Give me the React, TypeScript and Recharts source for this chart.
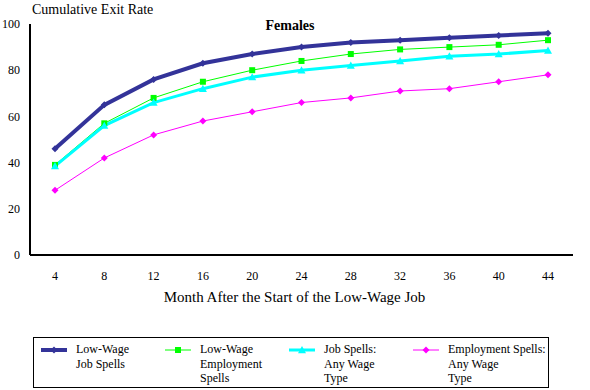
import { LineChart, Line, XAxis, YAxis } from "recharts";

const months = ["4", "8", "12", "16", "20", "24", "28", "32", "36", "40", "44"];
const lowWageJob = [46, 65, 76, 83, 87, 90, 92, 93, 94, 95, 96];
const lowWageEmployment = [39, 57, 68, 75, 80, 84, 87, 89, 90, 91, 93];
const anyWageJob = [38.5, 56, 66, 72, 77, 80, 82, 84, 86, 87, 88.5];
const anyWageEmployment = [28, 42, 52, 58, 62, 66, 68, 71, 72, 75, 78];
const yTicks = [0, 20, 40, 60, 80, 100];

const data = months.map((m, i) => ({
  month: m,
  lowWageJob: lowWageJob[i],
  lowWageEmployment: lowWageEmployment[i],
  anyWageJob: anyWageJob[i],
  anyWageEmployment: anyWageEmployment[i],
}));

const font = "Liberation Serif";

type Shape = "diamond" | "square" | "triangle";

function marker(shape: Shape, color: string, r: number) {
  return (props: any) => {
    const { cx, cy, index } = props;
    if (cx == null || cy == null) return <g key={index} />;
    if (shape === "square")
      return <rect key={index} x={cx - r} y={cy - r} width={r * 2} height={r * 2} fill={color} />;
    if (shape === "triangle")
      return (
        <polygon key={index} points={`${cx},${cy - r} ${cx + r},${cy + r * 0.8} ${cx - r},${cy + r * 0.8}`} fill={color} />
      );
    return (
      <polygon key={index} points={`${cx},${cy - r} ${cx + r},${cy} ${cx},${cy + r} ${cx - r},${cy}`} fill={color} />
    );
  };
}

const series = [
  { key: "lowWageJob", label: ["Low-Wage", "Job Spells"], color: "#333399", width: 4, shape: "diamond" as Shape, r: 3.5 },
  { key: "lowWageEmployment", label: ["Low-Wage", "Employment", "Spells"], color: "#00ff00", width: 1, shape: "square" as Shape, r: 3 },
  { key: "anyWageJob", label: ["Job Spells:", "Any Wage", "Type"], color: "#00ffff", width: 3, shape: "triangle" as Shape, r: 4 },
  { key: "anyWageEmployment", label: ["Employment Spells:", "Any Wage", "Type"], color: "#ff00ff", width: 1, shape: "diamond" as Shape, r: 3.5 },
];

function LegendSample({ s }: { s: (typeof series)[number] }) {
  const Dot = marker(s.shape, s.color, s.r);
  return (
    <svg width={26} height={10} style={{ display: "block" }}>
      <line x1={0} y1={5} x2={26} y2={5} stroke={s.color} strokeWidth={s.width} />
      <Dot cx={13} cy={5} index={0} />
    </svg>
  );
}

export default function App() {
  return (
    <div style={{ position: "absolute", left: 0, top: 0, width: 590, height: 390, background: "#fff", fontFamily: font }}>
      <div style={{ position: "absolute", left: 32, top: 2, fontSize: 14, color: "#000" }}>Cumulative Exit Rate</div>
      <div style={{ position: "absolute", left: 0, width: 580, top: 18, textAlign: "center", fontSize: 14, fontWeight: "bold" }}>
        Females
      </div>
      <LineChart width={590} height={390} data={data} margin={{ top: 24, right: 17, left: 0, bottom: 0 }}>
        <XAxis
          dataKey="month"
          height={135}
          padding={{ left: 25, right: 25 }}
          tickLine={false}
          tickSize={0}
          tickMargin={16}
          axisLine={{ stroke: "#000", strokeWidth: 2 }}
          tick={{ fill: "#000", fontSize: 12, fontFamily: font }}
          label={{ value: "Month After the Start of the Low-Wage Job", position: "insideTop", offset: 36, dx: -7, fill: "#000", fontSize: 15, fontFamily: font }}
        />
        <YAxis
          width={30}
          domain={[0, 100]}
          ticks={yTicks}
          tickLine={false}
          tickSize={0}
          tickMargin={10}
          axisLine={{ stroke: "#000", strokeWidth: 2 }}
          tick={{ fill: "#000", fontSize: 12, fontFamily: font }}
        />
        {series.map((s) => (
          <Line
            key={s.key}
            dataKey={s.key}
            type="linear"
            stroke={s.color}
            strokeWidth={s.width}
            dot={marker(s.shape, s.color, s.r)}
            activeDot={false}
            isAnimationActive={false}
          />
        ))}
      </LineChart>
      <div
        style={{
          position: "absolute",
          left: 33,
          top: 337,
          width: 516,
          height: 51,
          border: "1px solid #000",
          boxSizing: "border-box",
          fontSize: 12,
          lineHeight: "14.5px",
        }}
      >
        {series.map((s, i) => (
          <div key={s.key} style={{ position: "absolute", left: 7 + i * 124, top: 4, display: "flex" }}>
            <div style={{ marginTop: 3 }}>
              <LegendSample s={s} />
            </div>
            <div style={{ marginLeft: 9 }}>
              {s.label.map((t) => (
                <div key={t}>{t}</div>
              ))}
            </div>
          </div>
        ))}
      </div>
    </div>
  );
}
